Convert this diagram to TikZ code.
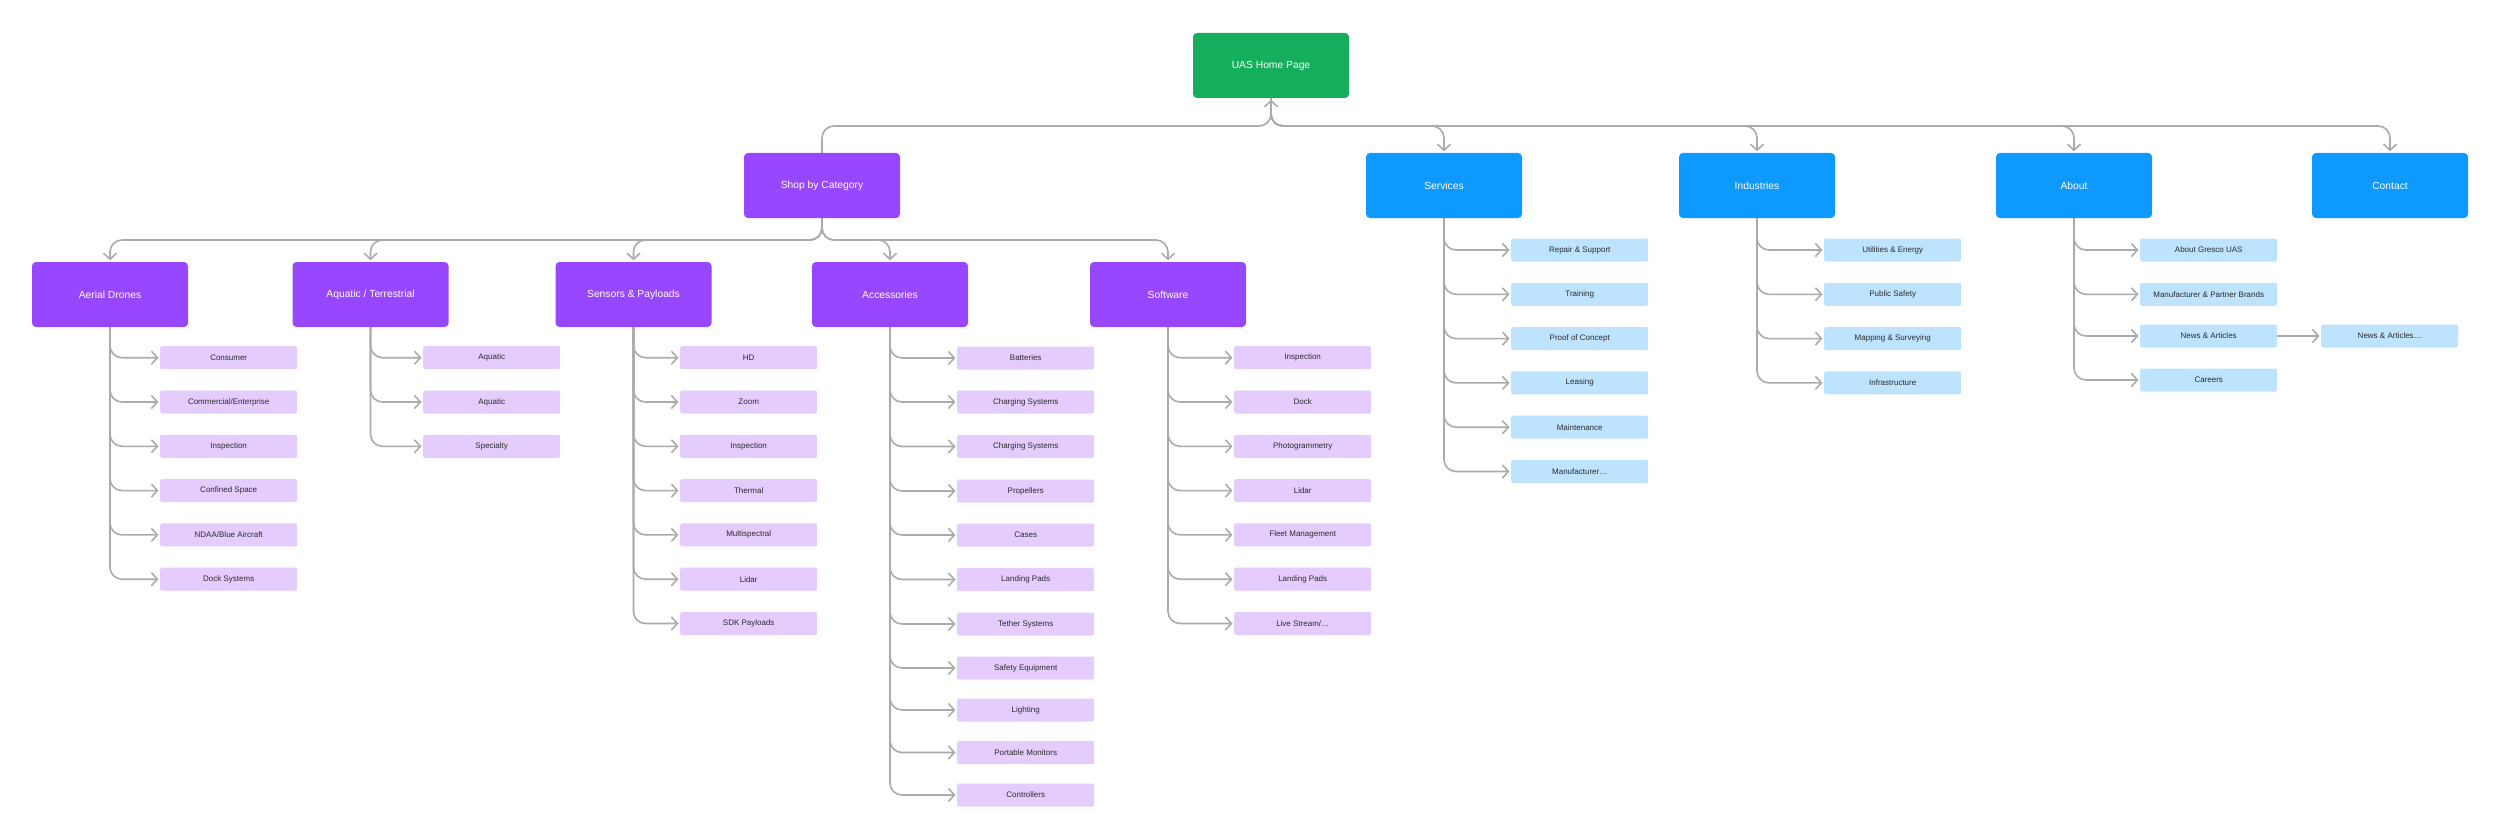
\documentclass[tikz,border=0pt]{standalone}
\usepackage{fontspec}
\setmainfont{Liberation Sans}
\usepackage{xcolor}
\usetikzlibrary{positioning,arrows.meta,calc}
\definecolor{homegreen}{HTML}{14AE5C}
\definecolor{catpurple}{HTML}{9747FF}
\definecolor{secblue}{HTML}{0D99FF}
\definecolor{leafpurple}{HTML}{E4CCFF}
\definecolor{leafblue}{HTML}{BDE3FF}
\definecolor{linkgray}{HTML}{ABABAB}
\definecolor{leaftext}{HTML}{2B2B2B}

\begin{document}
\begin{tikzpicture}[x=1pt, y=-1pt,
  box/.style={rounded corners=4pt, minimum width=156pt, minimum height=65pt, inner sep=0pt, text=white, font=\fontsize{10.3}{12}\selectfont},
  home/.style={box, fill=homegreen}, cat/.style={box, fill=catpurple}, sec/.style={box, fill=secblue},
  leaf/.style={rounded corners=2pt, minimum width=137pt, minimum height=23pt, inner sep=0pt, anchor=west, text=leaftext, font=\fontsize{8}{10}\selectfont},
  pleaf/.style={leaf, fill=leafpurple}, bleaf/.style={leaf, fill=leafblue},
  arr/.style={draw=linkgray, line width=1.6pt, rounded corners=12pt, shorten >=1.5pt,
    -{Straight Barb[length=6pt, width=13pt, line width=1.6pt]}}]
\useasboundingbox (0,0) rectangle (2500,840);
% top level
\node[home] (home) at (1271,65.5) {UAS Home Page};
\node[cat] (shop) at (822,185.5) {Shop by Category};
\node[sec] (services) at (1444,185.5) {Services};
\node[sec] (industries) at (1757,185.5) {Industries};
\node[sec] (about) at (2074,185.5) {About};
\node[sec] (contact) at (2390,185.5) {Contact};
\coordinate (hb) at (1271,126);
\draw[arr] (shop.north) |- (hb) -- (home.south);
\foreach \n in {services, industries, about, contact}
  \draw[arr] (home.south) -- (hb) -| (\n.north);
% shop categories
\node[cat] (aerial) at (110,294.5) {Aerial Drones};
\node[cat] (aquatic) at (370.5,294.5) {Aquatic / Terrestrial};
\node[cat] (sensors) at (633.5,294.5) {Sensors \& Payloads};
\node[cat] (access) at (890,294.5) {Accessories};
\node[cat] (software) at (1168,294.5) {Software};
\coordinate (sb) at (822,240);
\foreach \n in {aerial, aquatic, sensors, access, software}
  \draw[arr] (shop.south) -- (sb) -| (\n.north);
% leaves
\foreach \txt [count=\i] in {Consumer, Commercial/Enterprise, Inspection, Confined Space, NDAA/Blue Aircraft, Dock Systems} {
  \node[pleaf] (aer\i) at (160,313.4+44.3*\i) {\txt};
  \draw[arr] (aerial.south) |- (aer\i.west);
}
\foreach \txt [count=\i] in {Aquatic, Aquatic, Specialty} {
  \node[pleaf] (aqu\i) at (423,313.4+44.3*\i) {\txt};
  \draw[arr] (aquatic.south) |- (aqu\i.west);
}
\foreach \txt [count=\i] in {HD, Zoom, Inspection, Thermal, Multispectral, Lidar, SDK Payloads} {
  \node[pleaf] (sen\i) at (680,313.4+44.3*\i) {\txt};
  \draw[arr] (sensors.south) |- (sen\i.west);
}
\foreach \txt/\y [count=\i] in {Batteries/358, Charging Systems/402, Charging Systems/446.5, Propellers/491,
    Cases/535, Landing Pads/579.5, Tether Systems/624, Safety Equipment/668, Lighting/710,
    Portable Monitors/752.5, Controllers/795} {
  \node[pleaf] (acc\i) at (957,\y) {\txt};
  \draw[arr] (access.south) |- (acc\i.west);
}
\foreach \txt [count=\i] in {Inspection, Dock, Photogrammetry, Lidar, Fleet Management, Landing Pads, Live Stream/…} {
  \node[pleaf] (sof\i) at (1234,313.4+44.3*\i) {\txt};
  \draw[arr] (software.south) |- (sof\i.west);
}
\foreach \txt [count=\i] in {Repair \& Support, Training, Proof of Concept, Leasing, Maintenance, Manufacturer…} {
  \node[bleaf] (ser\i) at (1511,205.7+44.3*\i) {\txt};
  \draw[arr] (services.south) |- (ser\i.west);
}
\foreach \txt [count=\i] in {Utilities \& Energy, Public Safety, Mapping \& Surveying, Infrastructure} {
  \node[bleaf] (ind\i) at (1824,205.7+44.3*\i) {\txt};
  \draw[arr] (industries.south) |- (ind\i.west);
}
\foreach \txt/\y [count=\i] in {About Gresco UAS/250, Manufacturer \& Partner Brands/294.3, News \& Articles/336, Careers/380} {
  \node[bleaf] (abt\i) at (2140,\y) {\txt};
  \draw[arr] (about.south) |- (abt\i.west);
}
\node[bleaf] (news) at (2321,336) {News \& Articles…};
\draw[arr] (abt3.east) -- (news.west);
\end{tikzpicture}
\end{document}
